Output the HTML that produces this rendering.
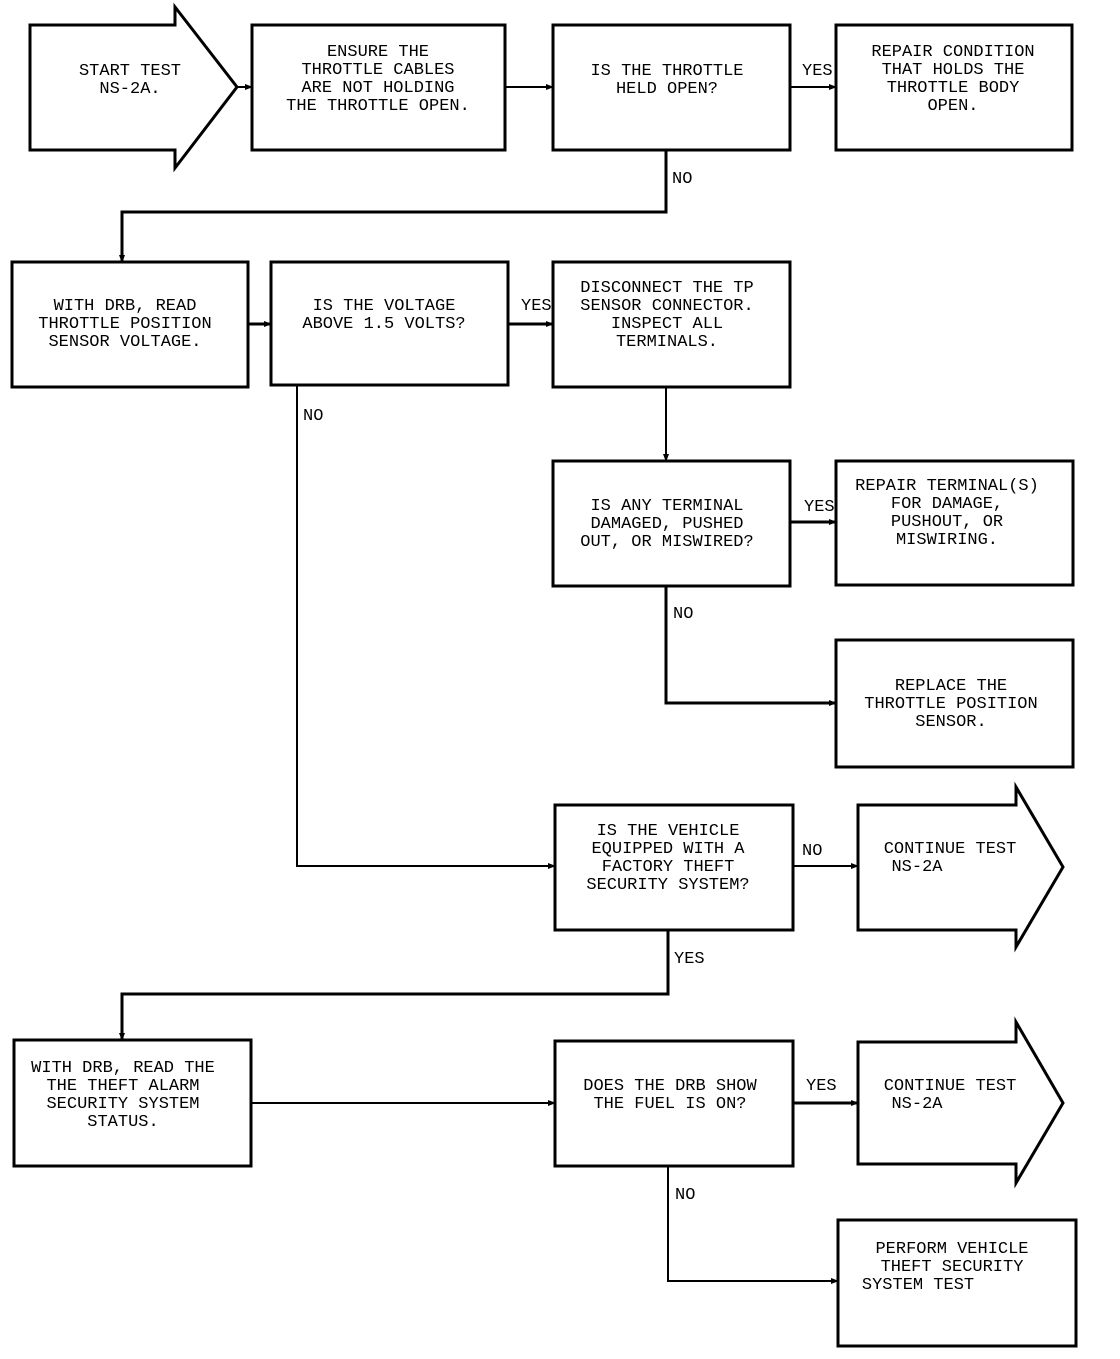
<!DOCTYPE html>
<html><head><meta charset="utf-8"><style>
html,body{margin:0;padding:0;background:#fff}
svg text{font-family:"Liberation Mono",monospace;font-size:17px;fill:#000}
</style></head><body>
<svg width="1120" height="1354" viewBox="0 0 1120 1354" xmlns="http://www.w3.org/2000/svg">
<defs><marker id="a" markerWidth="8" markerHeight="8" refX="7" refY="4" orient="auto" markerUnits="userSpaceOnUse"><path d="M0,1 L8,4 L0,7 z" fill="#000"/></marker></defs>
<g fill="none" stroke="#000" stroke-width="3">
<path d="M30,25 H175 V7 L237,87 L175,168 V150 H30 Z"/>
<rect x="252" y="25" width="253" height="125"/>
<rect x="553" y="25" width="237" height="125"/>
<rect x="836" y="25" width="236" height="125"/>
<rect x="12" y="262" width="236" height="125"/>
<rect x="271" y="262" width="237" height="123"/>
<rect x="553" y="262" width="237" height="125"/>
<rect x="553" y="461" width="237" height="125"/>
<rect x="836" y="461" width="237" height="124"/>
<rect x="836" y="640" width="237" height="127"/>
<rect x="555" y="805" width="238" height="125"/>
<path d="M858,805 H1016 V787 L1063,867 L1016,947 V930 H858 Z"/>
<rect x="14" y="1040" width="237" height="126"/>
<rect x="555" y="1041" width="238" height="125"/>
<path d="M858,1042 H1016 V1022 L1063,1103 L1016,1183 V1164 H858 Z"/>
<rect x="838" y="1220" width="238" height="126"/>
</g>
<g fill="none" stroke="#000" stroke-width="2">
<path d="M237,87 H252" marker-end="url(#a)"/>
<path d="M505,87 H553" marker-end="url(#a)"/>
<path d="M790,87 H836" marker-end="url(#a)"/>
<path d="M666,150 V212 H122 V262" marker-end="url(#a)" stroke-width="3"/>
<path d="M248,324 H271" marker-end="url(#a)" stroke-width="3"/>
<path d="M508,324 H553" marker-end="url(#a)" stroke-width="3"/>
<path d="M666,387 V461" marker-end="url(#a)"/>
<path d="M790,522 H836" marker-end="url(#a)" stroke-width="3"/>
<path d="M666,586 V703 H836" marker-end="url(#a)" stroke-width="3"/>
<path d="M297,385 V866 H555" marker-end="url(#a)"/>
<path d="M793,866 H858" marker-end="url(#a)"/>
<path d="M668,930 V994 H122 V1040" marker-end="url(#a)" stroke-width="3"/>
<path d="M251,1103 H555" marker-end="url(#a)"/>
<path d="M793,1103 H858" marker-end="url(#a)" stroke-width="3"/>
<path d="M668,1166 V1281 H838" marker-end="url(#a)"/>
</g>
<g text-anchor="middle">
<text x="130" y="75">START TEST</text><text x="130" y="93">NS-2A.</text>
<text x="378" y="56">ENSURE THE</text><text x="378" y="74">THROTTLE CABLES</text><text x="378" y="92">ARE NOT HOLDING</text><text x="378" y="110">THE THROTTLE OPEN.</text>
<text x="667" y="75">IS THE THROTTLE</text><text x="667" y="93">HELD OPEN?</text>
<text x="953" y="56">REPAIR CONDITION</text><text x="953" y="74">THAT HOLDS THE</text><text x="953" y="92">THROTTLE BODY</text><text x="953" y="110">OPEN.</text>
<text x="125" y="310">WITH DRB, READ</text><text x="125" y="328">THROTTLE POSITION</text><text x="125" y="346">SENSOR VOLTAGE.</text>
<text x="384" y="310">IS THE VOLTAGE</text><text x="384" y="328">ABOVE 1.5 VOLTS?</text>
<text x="667" y="292">DISCONNECT THE TP</text><text x="667" y="310">SENSOR CONNECTOR.</text><text x="667" y="328">INSPECT ALL</text><text x="667" y="346">TERMINALS.</text>
<text x="667" y="510">IS ANY TERMINAL</text><text x="667" y="528">DAMAGED, PUSHED</text><text x="667" y="546">OUT, OR MISWIRED?</text>
<text x="947" y="490">REPAIR TERMINAL(S)</text><text x="947" y="508">FOR DAMAGE,</text><text x="947" y="526">PUSHOUT, OR</text><text x="947" y="544">MISWIRING.</text>
<text x="951" y="690">REPLACE THE</text><text x="951" y="708">THROTTLE POSITION</text><text x="951" y="726">SENSOR.</text>
<text x="668" y="835">IS THE VEHICLE</text><text x="668" y="853">EQUIPPED WITH A</text><text x="668" y="871">FACTORY THEFT</text><text x="668" y="889">SECURITY SYSTEM?</text>
<text x="950" y="853">CONTINUE TEST</text><text x="917" y="871">NS-2A</text>
<text x="123" y="1072">WITH DRB, READ THE</text><text x="123" y="1090">THE THEFT ALARM</text><text x="123" y="1108">SECURITY SYSTEM</text><text x="123" y="1126">STATUS.</text>
<text x="670" y="1090">DOES THE DRB SHOW</text><text x="670" y="1108">THE FUEL IS ON?</text>
<text x="950" y="1090">CONTINUE TEST</text><text x="917" y="1108">NS-2A</text>
<text x="952" y="1253">PERFORM VEHICLE</text><text x="952" y="1271">THEFT SECURITY</text><text x="918" y="1289">SYSTEM TEST</text>
</g>
<g>
<text x="802" y="75">YES</text>
<text x="672" y="183">NO</text>
<text x="521" y="310">YES</text>
<text x="303" y="420">NO</text>
<text x="804" y="511">YES</text>
<text x="673" y="618">NO</text>
<text x="802" y="855">NO</text>
<text x="674" y="963">YES</text>
<text x="806" y="1090">YES</text>
<text x="675" y="1199">NO</text>
</g>
</svg>
</body></html>
